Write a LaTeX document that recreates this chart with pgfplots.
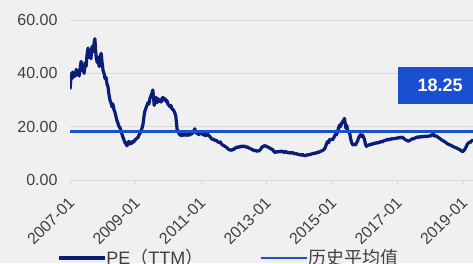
\documentclass[border=0pt]{standalone}
\usepackage{pgfplots}
\pgfplotsset{compat=1.18}
\usepackage{fontspec}
\setmainfont{Liberation Sans}
\newfontfamily\cjk{Noto Sans CJK SC}
\definecolor{bg}{HTML}{F0F0F0}
\definecolor{pe}{HTML}{0A1E78}
\definecolor{avg}{HTML}{1A50D0}
\definecolor{gridc}{HTML}{D9D9D9}
\definecolor{txt}{HTML}{404040}
\pgfplotstableread{
x y
2007.00 34
2007.02 37
2007.04 40
2007.06 38
2007.08 40.5
2007.10 38.5
2007.13 40
2007.16 39
2007.19 41.5
2007.22 39.5
2007.25 41
2007.28 39
2007.31 42
2007.34 44.5
2007.37 41
2007.40 43
2007.43 40
2007.46 44
2007.49 42.5
2007.52 47
2007.55 49.5
2007.58 46
2007.61 48
2007.64 45.5
2007.67 50
2007.70 48
2007.73 51
2007.76 53
2007.78 49
2007.80 46
2007.83 44
2007.86 46
2007.89 42.5
2007.92 46
2007.95 47.5
2007.98 44
2008.01 41
2008.04 40
2008.07 38
2008.10 38.5
2008.13 36
2008.16 35
2008.19 32
2008.22 30
2008.25 29
2008.28 27.5
2008.31 28.5
2008.34 26.5
2008.37 25.5
2008.40 24
2008.43 22.5
2008.47 21
2008.50 20
2008.53 19.5
2008.56 18.5
2008.59 17
2008.62 16
2008.65 15
2008.68 14
2008.71 13.5
2008.74 12.8
2008.77 14
2008.80 14.5
2008.83 13.5
2008.86 14.2
2008.89 13.8
2008.92 14.5
2008.95 14.3
2008.98 15
2009.02 15.3
2009.05 15.8
2009.08 16
2009.11 17
2009.14 17.5
2009.17 18.5
2009.20 19.5
2009.23 21
2009.26 24
2009.29 26
2009.32 27
2009.35 28
2009.38 29
2009.41 28.5
2009.44 30.5
2009.47 31.5
2009.50 32.5
2009.53 33.8
2009.55 31
2009.57 28
2009.60 29.5
2009.63 31
2009.66 29
2009.69 30.5
2009.72 29.5
2009.75 30
2009.78 29.2
2009.81 30.5
2009.84 31
2009.87 30
2009.90 30.5
2009.93 29.5
2009.96 29.8
2009.99 28.5
2010.02 28
2010.05 27.5
2010.08 28
2010.11 26.8
2010.14 26.5
2010.17 26
2010.20 25.2
2010.23 24
2010.25 21.5
2010.27 19
2010.30 18
2010.33 17.5
2010.36 16.8
2010.39 17.2
2010.42 16.6
2010.45 16.9
2010.48 17.4
2010.51 16.8
2010.54 17.2
2010.57 16.7
2010.60 17.3
2010.63 16.9
2010.66 16.8
2010.69 17.6
2010.72 17.3
2010.75 17.8
2010.78 18.5
2010.81 19.2
2010.84 18
2010.87 17.4
2010.90 17.6
2010.93 17
2010.96 17.5
2010.99 17.3
2011.02 17.6
2011.05 17.2
2011.08 16.8
2011.11 17.1
2011.14 16.6
2011.17 16.9
2011.20 17.3
2011.23 16.7
2011.26 16.5
2011.29 16.0
2011.32 15.5
2011.35 15.2
2011.38 15.4
2011.41 15.0
2011.44 14.8
2011.47 14.9
2011.50 14.4
2011.53 14.2
2011.56 14.0
2011.59 14.3
2011.62 13.6
2011.65 13.2
2011.68 13.0
2011.71 12.8
2011.74 12.5
2011.77 12.3
2011.80 12.0
2011.83 11.6
2011.86 11.4
2011.89 11.2
2011.92 11.3
2011.95 11.1
2011.98 11.6
2012.01 11.5
2012.04 12.0
2012.07 12.1
2012.10 12.4
2012.14 12.2
2012.18 12.6
2012.22 12.4
2012.26 12.8
2012.30 12.5
2012.34 12.7
2012.38 12.3
2012.42 12.4
2012.46 12.0
2012.50 11.8
2012.54 11.6
2012.58 11.3
2012.62 11.0
2012.66 11.2
2012.70 10.8
2012.74 10.9
2012.78 11.0
2012.82 11.5
2012.86 12.3
2012.90 12.6
2012.94 12.9
2012.98 12.7
2013.02 12.5
2013.06 12.2
2013.10 12.0
2013.14 11.6
2013.18 11.5
2013.22 10.8
2013.26 10.3
2013.30 10.6
2013.34 10.5
2013.38 10.8
2013.42 10.5
2013.46 10.9
2013.50 10.6
2013.54 10.3
2013.58 10.7
2013.62 10.4
2013.66 10.2
2013.70 10.4
2013.74 10.0
2013.78 10.3
2013.82 10.1
2013.86 9.8
2013.90 10.0
2013.94 9.7
2013.98 9.6
2014.02 9.5
2014.06 9.3
2014.10 9.6
2014.14 9.2
2014.18 9.1
2014.22 9.4
2014.26 9.3
2014.30 9.6
2014.34 9.5
2014.38 9.8
2014.42 9.9
2014.46 10.1
2014.50 10.0
2014.54 10.4
2014.58 10.3
2014.62 10.6
2014.66 10.8
2014.70 11.0
2014.74 11.3
2014.78 11.8
2014.81 12.8
2014.84 13.8
2014.87 14.5
2014.90 14.0
2014.93 15.2
2014.96 15.0
2014.99 15.4
2015.02 15.1
2015.05 15.8
2015.08 16.5
2015.11 17.2
2015.14 17.0
2015.17 18.3
2015.20 19.5
2015.23 20.6
2015.26 20.0
2015.29 21.2
2015.32 21.8
2015.35 22.3
2015.38 23.1
2015.40 21.5
2015.42 19.5
2015.45 20.5
2015.48 18.5
2015.51 18.0
2015.54 17.5
2015.57 15.5
2015.60 14.0
2015.63 13.3
2015.66 13.1
2015.69 13.5
2015.72 13.2
2015.75 14.0
2015.78 14.6
2015.81 15.8
2015.84 16.5
2015.87 17.0
2015.90 16.3
2015.93 16.9
2015.96 16.2
2015.99 15.3
2016.02 13.5
2016.05 12.6
2016.08 12.9
2016.11 13.2
2016.14 13.0
2016.18 13.5
2016.22 13.3
2016.26 13.8
2016.30 13.6
2016.34 14.0
2016.38 13.8
2016.42 14.2
2016.46 14.1
2016.50 14.5
2016.54 14.3
2016.58 14.7
2016.62 14.8
2016.66 15.1
2016.70 15.0
2016.74 15.3
2016.78 15.2
2016.82 15.5
2016.86 15.4
2016.90 15.6
2016.94 15.5
2016.98 15.8
2017.02 15.7
2017.06 16.0
2017.10 15.8
2017.14 16.1
2017.18 15.7
2017.22 15.3
2017.26 15.0
2017.30 14.7
2017.34 14.6
2017.38 14.9
2017.42 15.2
2017.46 15.5
2017.50 15.4
2017.54 15.8
2017.58 15.9
2017.62 16.2
2017.66 16.0
2017.70 16.3
2017.74 16.1
2017.78 16.4
2017.82 16.2
2017.86 16.5
2017.90 16.3
2017.94 16.4
2017.98 16.6
2018.02 16.5
2018.06 17.0
2018.09 17.4
2018.12 16.6
2018.15 16.4
2018.18 16.6
2018.22 16.2
2018.26 15.8
2018.30 15.5
2018.34 15.1
2018.38 14.8
2018.42 14.5
2018.46 14.2
2018.50 13.8
2018.54 13.5
2018.58 13.2
2018.62 13.1
2018.66 12.8
2018.70 12.5
2018.74 12.3
2018.78 12.1
2018.82 11.9
2018.86 11.6
2018.90 11.4
2018.94 11.0
2018.98 10.7
2019.01 10.8
2019.04 11.3
2019.07 11.8
2019.10 12.6
2019.13 13.4
2019.16 13.8
2019.19 14.2
2019.22 14.0
2019.25 14.6
2019.28 14.8
2019.31 15.0
}\petable
\begin{document}
\begin{tikzpicture}
\fill[bg] (0,0) rectangle (473pt,263pt);
\clip (0,0) rectangle (473pt,263pt);
\begin{axis}[
  at={(70pt,83pt)}, anchor=south west,
  scale only axis, width=403pt, height=160pt,
  xmin=2007, xmax=2019.305, ymin=0, ymax=60,
  axis x line*=bottom, axis y line*=left,
  y axis line style={draw=none},
  x axis line style={draw=gridc, line width=0.8pt, -},
  ytick={0,20,40,60},
  yticklabels={0.00,20.00,40.00,60.00},
  xtick={2007,2009,2011,2013,2015,2017,2019},
  xticklabels={2007-01,2009-01,2011-01,2013-01,2015-01,2017-01,2019-01},
  ymajorgrids, grid style={draw=gridc, line width=0.8pt},
  tick align=outside, major tick length=5pt,
  xtick style={draw=gridc, line width=0.8pt},
  ytick style={draw=none},
  ticklabel style={font=\fontsize{16}{19}\selectfont, text=txt},
  /pgf/number format/assume math mode=true,
  xticklabel style={yshift=-13pt, xshift=4pt, rotate=45, anchor=east},
  yticklabel style={xshift=-4pt},
  legend columns=2,
  legend style={at={(rel axis cs:0,0)}, xshift=-13pt, yshift=-78pt, anchor=west,
    draw=none, fill=none, inner sep=0pt, font=\fontsize{18}{21}\selectfont, text=txt,
    nodes={inner sep=0pt},
    /tikz/every even column/.append style={column sep=5pt}},
  legend cell align=left,
  legend image code/.code={\draw[#1] (0pt,0pt) -- (46pt,0pt);},
]
\addplot[pe, line width=3.2pt, line join=round] table[x=x,y=y] {\petable};
\addlegendentry{\makebox[148pt][l]{PE{\cjk （}TTM{\cjk ）}}}
\addplot[avg, line width=2.6pt] coordinates {(2007,18.25) (2019.305,18.25)};
\addlegendentry{{\cjk 历史平均值}}
\node[fill=avg, text=white, font=\bfseries\fontsize{18}{21}\selectfont, minimum width=84pt, minimum height=37pt, inner sep=0pt] at (axis cs:2018.30,35.4) {18.25};
\end{axis}
\end{tikzpicture}
\end{document}
